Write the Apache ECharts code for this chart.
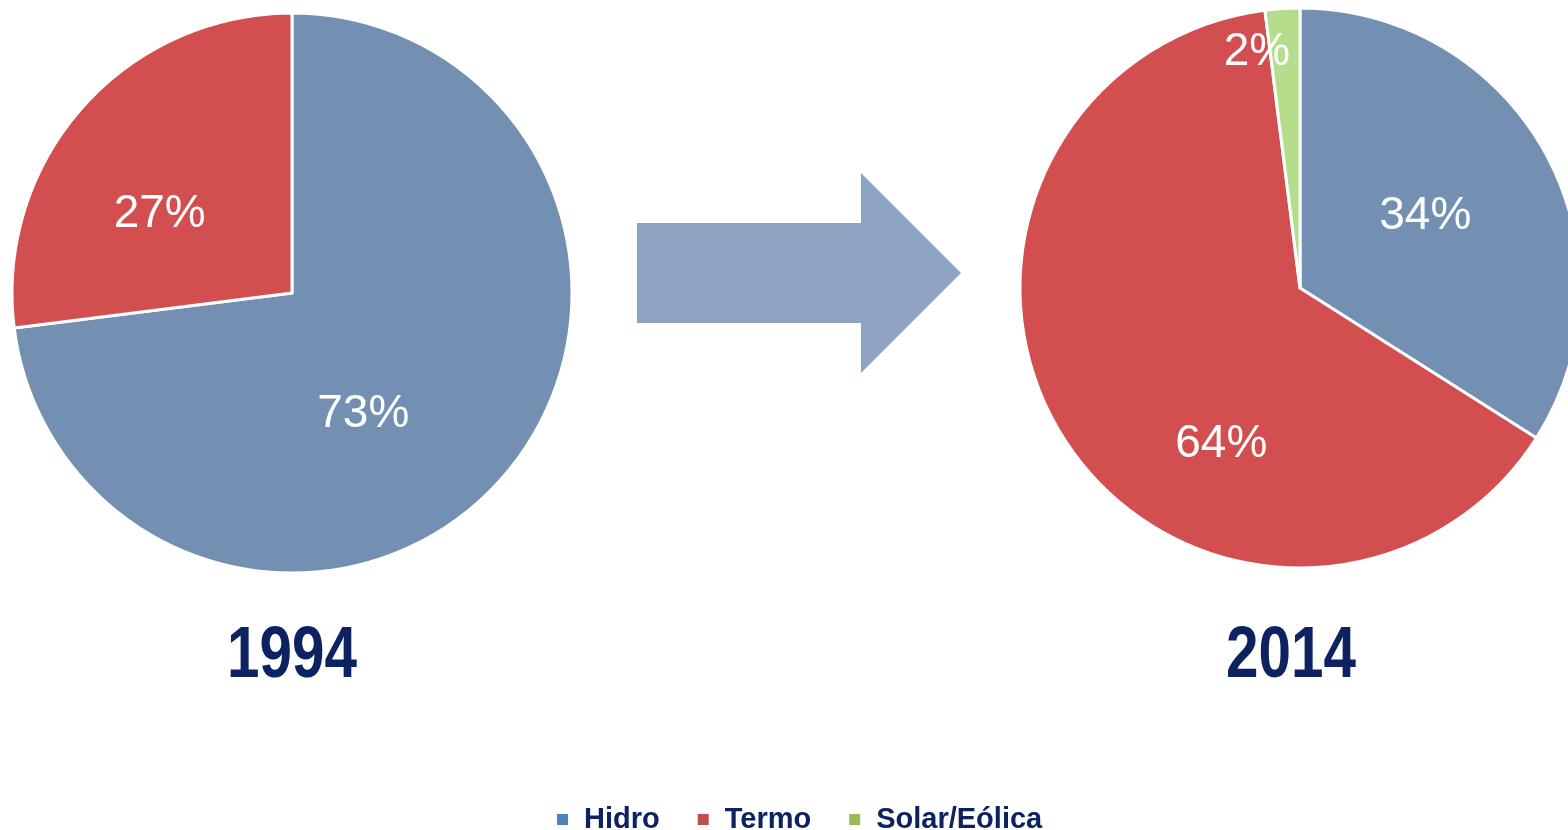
<!DOCTYPE html>
<html>
<head>
<meta charset="utf-8">
<script src="https://cdn.jsdelivr.net/npm/echarts@6/dist/echarts.min.js"></script>
<style>html,body{margin:0;padding:0;background:#fff;}#c{width:1568px;height:830px;}</style>
</head>
<body>
<div id="c"></div>
<script>
const categories = ['Hidro', 'Termo', 'Solar/Eólica'];
const years = ['1994', '2014'];
const values1994 = [73, 27];
const values2014 = [34, 64, 2];

const sliceColors = ['#7390B3', '#D34E4E', '#B5DE8C'];
const legendColors = ['#4F81BD', '#C0504D', '#9BBB59'];
const FONT = '"Liberation Sans", Arial, sans-serif';

// label nudges (style only)
const labelNudge = [
  [[-36, 27], [-25, 16]],
  [[0, -3], [42, 80], [-34, -93]]
];

function toData(vals) {
  return vals.map((v, i) => ({ name: categories[i], value: v, itemStyle: { color: sliceColors[i] } }));
}

function yearText(txt, cx) {
  return {
    type: 'text', x: cx, y: 657, scaleX: 0.8, scaleY: 1,
    style: { text: txt, font: 'bold 73px ' + FONT, fill: '#0D2261', align: 'center', verticalAlign: 'middle' },
    z: 10
  };
}

const chart = echarts.init(document.getElementById('c'), null, { renderer: 'canvas' });
chart.setOption({
  animation: false,
  backgroundColor: '#ffffff',
  legend: {
    left: 555, top: 805, padding: 0,
    icon: 'rect', itemWidth: 13, itemHeight: 13, itemGap: 36,
    data: categories.map((c, i) => ({ name: c, itemStyle: { color: legendColors[i] } })),
    textStyle: { fontFamily: FONT, fontWeight: 'bold', fontSize: 29, color: '#0D2261', padding: [0, 0, 0, 10] },
    selectedMode: false
  },
  graphic: [
    {
      type: 'polygon',
      shape: { points: [[637, 223], [861, 223], [861, 173], [961, 273], [861, 373], [861, 323], [637, 323]] },
      style: { fill: '#8CA3C1' },
      z: 0
    },
    yearText(years[0], 292),
    yearText(years[1], 1291)
  ],
  series: [
    {
      type: 'pie', center: [292, 293], radius: 280, startAngle: 90, clockwise: true,
      data: toData(values1994),
      itemStyle: { borderColor: '#fff', borderWidth: 3 },
      label: { position: 'inside', formatter: '{c}%', color: '#fff', fontFamily: FONT, fontSize: 46 },
      labelLine: { show: false },
      labelLayout: p => ({ dx: labelNudge[0][p.dataIndex][0], dy: labelNudge[0][p.dataIndex][1] }),
      emphasis: { disabled: true }
    },
    {
      type: 'pie', center: [1300, 288], radius: 280, startAngle: 90, clockwise: true,
      data: toData(values2014),
      itemStyle: { borderColor: '#fff', borderWidth: 3 },
      label: { position: 'inside', formatter: '{c}%', color: '#fff', fontFamily: FONT, fontSize: 46 },
      labelLine: { show: false },
      labelLayout: p => ({ dx: labelNudge[1][p.dataIndex][0], dy: labelNudge[1][p.dataIndex][1] }),
      emphasis: { disabled: true }
    }
  ]
});
</script>
</body>
</html>
